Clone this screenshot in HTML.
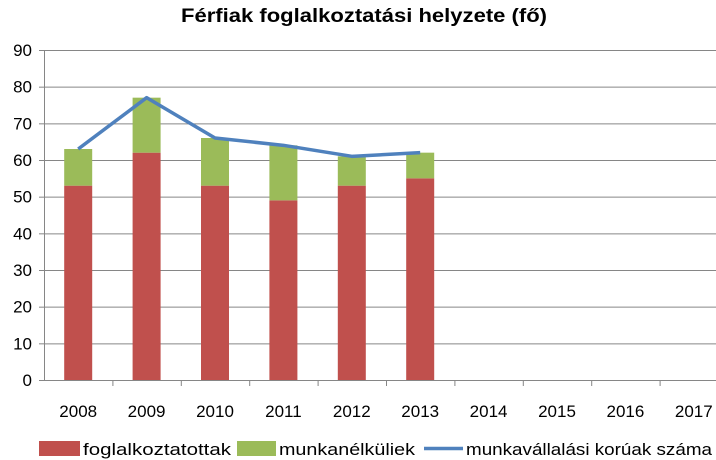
<!DOCTYPE html>
<html><head><meta charset="utf-8"><style>
body{margin:0;background:#fff;}
svg{display:block;font-family:"Liberation Sans",sans-serif;}
</style></head><body>
<svg id="chart" width="716" height="460">
<text x="181" y="22" textLength="366" lengthAdjust="spacingAndGlyphs" font-size="19" font-weight="bold" fill="#000">Férfiak foglalkoztatási helyzete (fő)</text>
<g id="grid"></g><g id="bars"></g><g id="line"></g><g id="axes"></g>
<g>
<rect x="39" y="441" width="41" height="15" fill="#c0504d"/>
<text x="83" y="455" font-size="17" textLength="148" lengthAdjust="spacingAndGlyphs">foglalkoztatottak</text>
<rect x="237" y="441" width="39" height="15" fill="#9bbb59"/>
<text x="279" y="455" font-size="17" textLength="136" lengthAdjust="spacingAndGlyphs">munkanélküliek</text>
<line x1="424" y1="448.5" x2="463" y2="448.5" stroke="#4f81bd" stroke-width="3.5"/>
<text x="466" y="455" font-size="17" textLength="246" lengthAdjust="spacingAndGlyphs">munkavállalási korúak száma</text>
</g>
</svg>
<script>
const categories=["2008","2009","2010","2011","2012","2013","2014","2015","2016","2017"];
const employed=[53,62,53,49,53,55,null,null,null,null];
const unemployed=[10,15,13,15,8,7,null,null,null,null];
const workingAge=[63,77,66,64,61,62,null,null,null,null];
const yTicks=[0,10,20,30,40,50,60,70,80,90];
const NS="http://www.w3.org/2000/svg";
const x0=44,band=68.4,yTop=50,yBot=380,yMax=90;
const y=v=>yBot-(v/yMax)*(yBot-yTop);
const xc=i=>x0+band*(i+0.5);
function mk(t,a,p){const e=document.createElementNS(NS,t);for(const k in a)e.setAttribute(k,a[k]);p.appendChild(e);return e;}
const grid=document.getElementById('grid'),axes=document.getElementById('axes'),bars=document.getElementById('bars'),lineG=document.getElementById('line');
yTicks.forEach(v=>{
  if(v>0){const g=mk('line',{x1:x0,x2:716,y1:y(v)+0.5,y2:y(v)+0.5,stroke:'#868686','stroke-width':1},grid);
  
  }
  const tk=mk('line',{x1:x0-5,x2:x0,y1:y(v)+0.5,y2:y(v)+0.5,stroke:'#868686'},axes);
  
  
  const t=mk('text',{x:x0-12,y:y(v)+6,'text-anchor':'end','font-size':17},axes);t.textContent=v;
  
  
});
const ya=mk('line',{x1:x0+0.5,x2:x0+0.5,y1:yTop,y2:yBot,stroke:'#868686'},axes);


const xa=mk('line',{x1:x0,x2:716,y1:yBot+0.5,y2:yBot+0.5,stroke:'#868686'},axes);


categories.forEach((c,i)=>{
  const tk=mk('line',{x1:x0+band*(i+1)+0.5,x2:x0+band*(i+1)+0.5,y1:yBot,y2:yBot+6,stroke:'#868686'},axes);
  
  
  const t=mk('text',{x:xc(i),y:yBot+37,'text-anchor':'middle','font-size':17},axes);t.textContent=c;
  
  
  if(employed[i]!=null){
    const w=28;
    const r1=mk('rect',{x:xc(i)-w/2,y:y(employed[i]),width:w,height:yBot-y(employed[i]),fill:'#c0504d'},bars);
    
    
    const top=employed[i]+unemployed[i];
    const r2=mk('rect',{x:xc(i)-w/2,y:y(top),width:w,height:y(employed[i])-y(top),fill:'#9bbb59'},bars);
    
    
  }
});
const pts=workingAge.map((v,i)=>v==null?null:xc(i)+','+y(v)).filter(p=>p);
const pl=mk('polyline',{points:pts.join(' '),fill:'none',stroke:'#4f81bd','stroke-width':3.5,'stroke-linejoin':'round'},lineG);


</script>
</body></html>
